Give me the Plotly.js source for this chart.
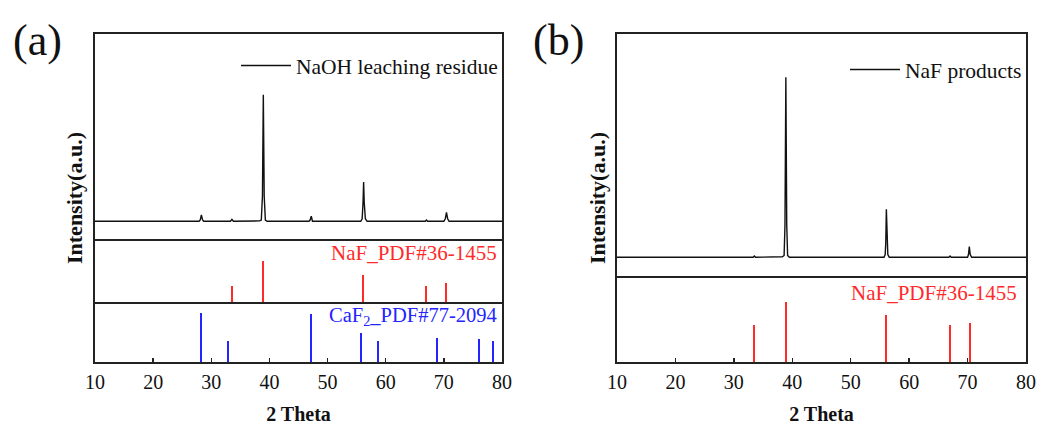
<!DOCTYPE html>
<html>
<head>
<meta charset="utf-8">
<script src="https://cdn.plot.ly/plotly-3.0.1.min.js"></script>
<style>html,body{margin:0;padding:0;background:#fff;}#chart{width:1037px;height:426px;}</style>
</head>
<body>
<div id="chart"></div>
<script>
// ---- Panel (a): NaOH leaching residue XRD pattern (relative intensity) ----
const residueTheta = [10, 20, 27.9, 28.1, 28.3, 28.5, 28.7, 33.3, 33.55, 33.8, 38.3, 38.6, 38.8, 38.95, 39.1, 39.3, 39.6,
                      46.8, 47.0, 47.2, 47.4, 55.7, 55.95, 56.1, 56.2, 56.3, 56.5, 56.8, 66.8, 67.0, 67.2, 70.0, 70.25, 70.45, 70.65, 70.9, 80];
const residueInt   = [0, 0, 0, 1, 5, 1, 0, 0, 1.5, 0, 0.3, 1, 20, 100, 20, 1, 0,
                      0, 1, 4, 0, 0, 2, 15, 31, 15, 2, 0, 0, 1, 0, 0, 2, 7, 2, 0, 0];

// ---- Panel (b): NaF products XRD pattern (relative intensity) ----
const productTheta = [10, 20, 33.3, 33.5, 33.7, 38.3, 38.6, 38.75, 38.9, 39.05, 39.2, 39.5,
                      55.7, 55.9, 56.0, 56.1, 56.2, 56.35, 56.6, 66.8, 67.0, 67.2, 70.0, 70.15, 70.3, 70.45, 70.7, 80];
const productInt   = [0, 0, 0, 0.7, 0, 0.3, 1, 18, 100, 18, 1, 0,
                      0, 1.5, 8, 26.7, 8, 1.5, 0, 0, 0.7, 0, 0, 1.5, 5.9, 1.5, 0, 0];

// ---- Reference patterns ----
const nafTheta = [33.5, 38.9, 56.1, 67.0, 70.4];
const nafInt   = [61, 100, 78, 61, 65];
const caf2Theta = [28.3, 32.9, 47.1, 55.8, 58.7, 68.8, 76.0, 78.4];
const caf2Int   = [100, 44, 99, 59, 44, 49, 48, 44];

const xTicks = [10, 20, 30, 40, 50, 60, 70, 80];

const serif = 'Liberation Serif';
const W = 1037, H = 426;
const px = v => v / W;
const py = v => 1 - v / H;

const traces = [
  {type: 'scatter', mode: 'lines', x: residueTheta, y: residueInt, xaxis: 'x3', yaxis: 'y3',
   name: 'NaOH leaching residue', line: {color: '#111', width: 1.4}, legend: 'legend', showlegend: true},
  {type: 'bar', x: nafTheta, y: nafInt, xaxis: 'x2', yaxis: 'y2', width: 0.32,
   marker: {color: '#ff2a2a', line: {width: 0}}, showlegend: false},
  {type: 'bar', x: caf2Theta, y: caf2Int, xaxis: 'x', yaxis: 'y', width: 0.36,
   marker: {color: '#2424ff', line: {width: 0}}, showlegend: false},
  {type: 'scatter', mode: 'lines', x: productTheta, y: productInt, xaxis: 'x5', yaxis: 'y5',
   name: 'NaF products', line: {color: '#111', width: 1.4}, legend: 'legend2', showlegend: true},
  {type: 'bar', x: nafTheta, y: nafInt, xaxis: 'x4', yaxis: 'y4', width: 0.32,
   marker: {color: '#ff2a2a', line: {width: 0}}, showlegend: false}
];

const lineCol = '#222';
function xa(domain, anchor, labels, mirror) {
  const ax = {domain: domain, anchor: anchor, range: [10, 80], showgrid: false, zeroline: false,
    showline: true, mirror: mirror, linecolor: lineCol, linewidth: 2,
    tickvals: xTicks, ticktext: xTicks.map(String),
    ticks: labels ? 'inside' : '', ticklen: 4, tickwidth: 1.5, tickcolor: lineCol,
    showticklabels: labels, ticklabelstandoff: 1,
    tickfont: {family: serif, size: 20, color: '#111'}};
  if (labels) ax.title = {text: '<b>2 Theta</b>', font: {family: serif, size: 20, color: '#111'}, standoff: 15};
  return ax;
}
function ya(domain, anchor, range) {
  return {domain: domain, anchor: anchor, range: range, showgrid: false, zeroline: false,
    showline: true, mirror: true, linecolor: lineCol, linewidth: 2,
    ticks: '', showticklabels: false};
}

const aX = [px(95), px(502)];
const bX = [px(617), px(1026)];

const ann = (text, x, y, size, color, opts) => Object.assign({text: text, xref: 'paper', yref: 'paper',
  x: px(x), y: py(y), xanchor: 'center', yanchor: 'middle', showarrow: false,
  font: {family: serif, size: size, color: color}}, opts || {});

const layout = {
  width: W, height: H,
  margin: {l: 0, r: 0, t: 0, b: 0},
  paper_bgcolor: '#fff', plot_bgcolor: '#fff',
  bargap: 0,
  xaxis: xa(aX, 'y', true, false),
  xaxis2: Object.assign(xa(aX, 'y2', false, false), {matches: 'x'}),
  xaxis3: Object.assign(xa(aX, 'y3', false, true), {matches: 'x'}),
  xaxis4: xa(bX, 'y4', true, false),
  xaxis5: Object.assign(xa(bX, 'y5', false, true), {matches: 'x4'}),
  yaxis:  ya([py(362), py(302)], 'x', [0, 123]),
  yaxis2: ya([py(302), py(239)], 'x2', [35.7, 135.2]),
  yaxis3: ya([py(239), py(34)], 'x3', [-14, 148]),
  yaxis4: ya([py(362), py(276)], 'x4', [0, 143]),
  yaxis5: ya([py(276), py(34)], 'x5', [-10.4, 124]),
  legend: {x: px(503), y: py(45), xanchor: 'right', yanchor: 'top', bgcolor: 'rgba(0,0,0,0)',
           font: {family: serif, size: 21.5, color: '#111'}, itemwidth: 50},
  legend2: {x: px(1027), y: py(49), xanchor: 'right', yanchor: 'top', bgcolor: 'rgba(0,0,0,0)',
           font: {family: serif, size: 21.5, color: '#111'}, itemwidth: 50},
  annotations: [
    ann('(a)', 37, 41, 44, '#111'),
    ann('(b)', 558, 41, 44, '#111'),
    ann('<b>Intensity(a.u.)</b>', 74, 198, 22, '#111', {textangle: -90}),
    ann('<b>Intensity(a.u.)</b>', 597, 198, 22, '#111', {textangle: -90}),
    ann('NaF_PDF#36-1455', 499, 253, 21, '#ff2a2a', {xanchor: 'right'}),
    ann('CaF<sub>2</sub>_PDF#77-2094', 499, 316, 20.5, '#2424ff', {xanchor: 'right'}),
    ann('NaF_PDF#36-1455', 1019, 293, 21, '#ff2a2a', {xanchor: 'right'})
  ]
};

Plotly.newPlot('chart', traces, layout, {displayModeBar: false, staticPlot: true});
</script>
</body>
</html>
